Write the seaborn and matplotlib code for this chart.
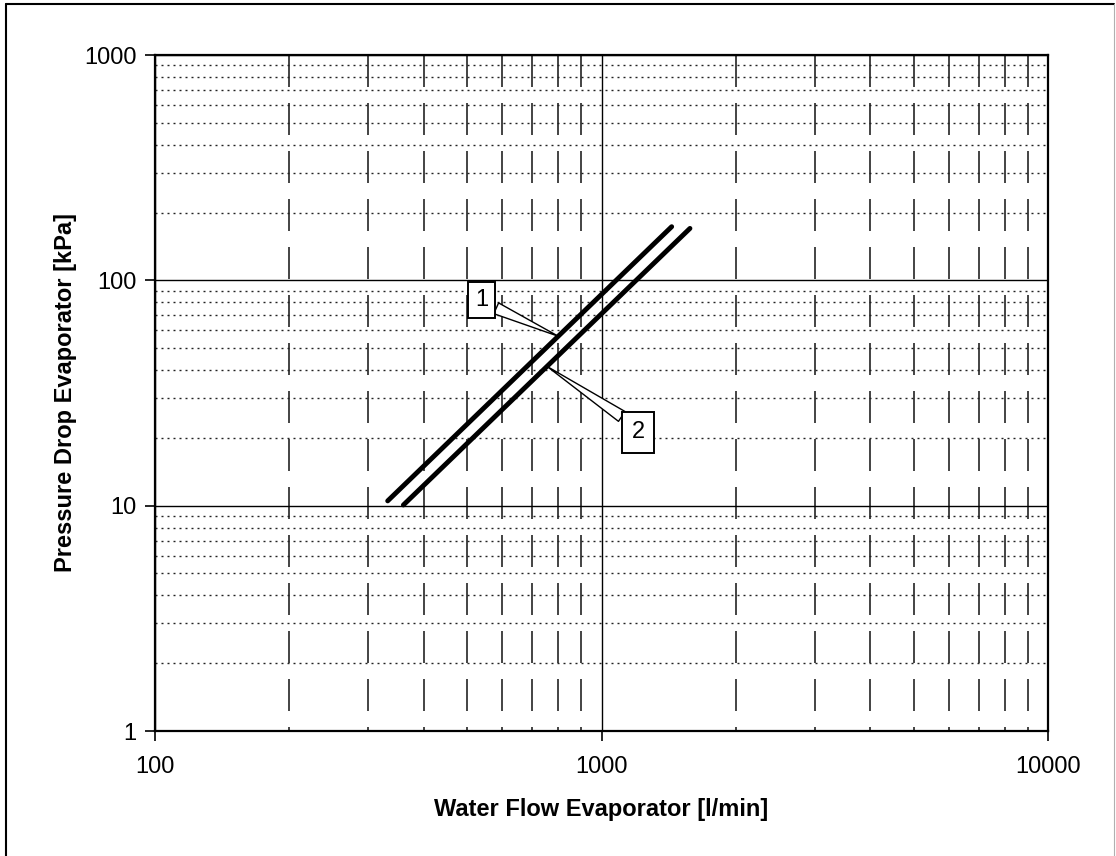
import numpy as np
import pandas as pd
import matplotlib
matplotlib.use("Agg")
import matplotlib.pyplot as plt
from matplotlib.lines import Line2D
from matplotlib.ticker import LogLocator, NullFormatter, FixedLocator, FixedFormatter
import seaborn as sns

# Pressure-drop characteristics (straight lines on log-log paper)
curve_names = ["1", "2"]
flow_1 = [332, 1436]      # l/min
dp_1 = [10.5, 173]        # kPa
flow_2 = [360, 1578]      # l/min
dp_2 = [10.07, 170]       # kPa

# Flow at which each curve is tagged with its number
tag_flow = [800, 755]

x_ticks = [100, 1000, 10000]
y_ticks = [1, 10, 100, 1000]
x_label = "Water Flow Evaporator [l/min]"
y_label = "Pressure Drop Evaporator [kPa]"

sns.set_theme(style="white")
plt.rcParams["font.family"] = ["Liberation Sans", "DejaVu Sans"]
plt.rcParams["text.color"] = "black"
plt.rcParams["axes.labelcolor"] = "black"
plt.rcParams["xtick.color"] = "black"
plt.rcParams["ytick.color"] = "black"

DPI = 100
PX = 72.0 / DPI  # points per pixel

fig = plt.figure(figsize=(11.16, 8.56), dpi=DPI, facecolor="white")
ax = fig.add_axes([155 / 1116, 1 - 731 / 856, 893 / 1116, 676 / 856])
ax.set_facecolor("white")
ax.set_xscale("log")
ax.set_yscale("log")

df = pd.DataFrame({
    "flow": flow_1 + flow_2,
    "dp": dp_1 + dp_2,
    "curve": [curve_names[0]] * len(flow_1) + [curve_names[1]] * len(flow_2),
})
sns.lineplot(data=df, x="flow", y="dp", hue="curve", palette=["black", "black"],
             linewidth=3.5, legend=False, sort=False, ax=ax, zorder=5,
             solid_capstyle="round")

ax.set_xlim(x_ticks[0], x_ticks[-1])
ax.set_ylim(y_ticks[0], y_ticks[-1])

ax.xaxis.set_major_locator(FixedLocator(x_ticks))
ax.xaxis.set_major_formatter(FixedFormatter([str(v) for v in x_ticks]))
ax.yaxis.set_major_locator(FixedLocator(y_ticks))
ax.yaxis.set_major_formatter(FixedFormatter([str(v) for v in y_ticks]))
ax.xaxis.set_minor_locator(LogLocator(base=10, subs=np.arange(2, 10)))
ax.yaxis.set_minor_locator(LogLocator(base=10, subs=np.arange(2, 10)))
ax.xaxis.set_minor_formatter(NullFormatter())
ax.yaxis.set_minor_formatter(NullFormatter())

ax.tick_params(axis="both", which="major", direction="out", length=7, width=1.2,
               color="black", labelsize=17, labelcolor="black", bottom=True, left=True)
ax.tick_params(axis="x", which="major", pad=11)
ax.tick_params(axis="y", which="major", pad=6.5)
ax.tick_params(which="minor", length=0)

# Grid: solid decades, long dashes for x-minor, fine dots for y-minor
glw = 1.0
ax.grid(which="major", axis="both", color="black", linewidth=glw, linestyle="-")
ax.grid(which="minor", axis="x", color="#111111", linewidth=1.1,
        linestyle=(28 * PX / 1.1, (32 * PX / 1.1, 16 * PX / 1.1)))
ax.grid(which="minor", axis="y", color="#222222", linewidth=glw,
        linestyle=(0, (2 * PX / glw, 4 * PX / glw)))
ax.set_axisbelow(True)

for s in ax.spines.values():
    s.set_visible(True)
    s.set_color("black")
    s.set_linewidth(1.6)

ax.set_xlabel(x_label, fontsize=17, fontweight="bold", labelpad=14.5)
ax.set_ylabel(y_label, fontsize=17, fontweight="bold", labelpad=5)

# Numbered callouts pointing at each curve
def on_curve(xs, ys, x):
    return 10 ** np.interp(np.log10(x), np.log10(xs), np.log10(ys))

tags = [
    (tag_flow[0], on_curve(flow_1, dp_1, tag_flow[0]), (0.366, 0.637), (1.0, 0.3), 0.3),
    (tag_flow[1], on_curve(flow_2, dp_2, tag_flow[1]), (0.5414, 0.4416), (0.0, 0.92), 0.4),
]
for name, (fx, fy, txy, rel, pad) in zip(curve_names, tags):
    ax.annotate(name, xy=(fx, fy), xycoords="data", xytext=txy, textcoords="axes fraction",
                ha="center", va="center", fontsize=17, color="black", zorder=4,
                bbox=dict(boxstyle=f"square,pad={pad}", fc="white", ec="black", lw=1.4),
                arrowprops=dict(arrowstyle="wedge,tail_width=0.5,shrink_factor=0.5",
                                fc="white", ec="black", lw=1.0, relpos=rel,
                                shrinkA=0, shrinkB=0))

# Frame around the whole chart
fig.add_artist(Line2D([5.5 / 1116, 5.5 / 1116], [0, 1 - 3.5 / 856],
                      transform=fig.transFigure, color="black", lw=1.5))
fig.add_artist(Line2D([5.5 / 1116, 1113.5 / 1116], [1 - 3.5 / 856, 1 - 3.5 / 856],
                      transform=fig.transFigure, color="black", lw=1.5))
fig.add_artist(Line2D([1113.5 / 1116, 1113.5 / 1116], [0, 1 - 3.5 / 856],
                      transform=fig.transFigure, color="#b0b0b0", lw=0.8))

fig.savefig("out.png", dpi=DPI, facecolor="white")
